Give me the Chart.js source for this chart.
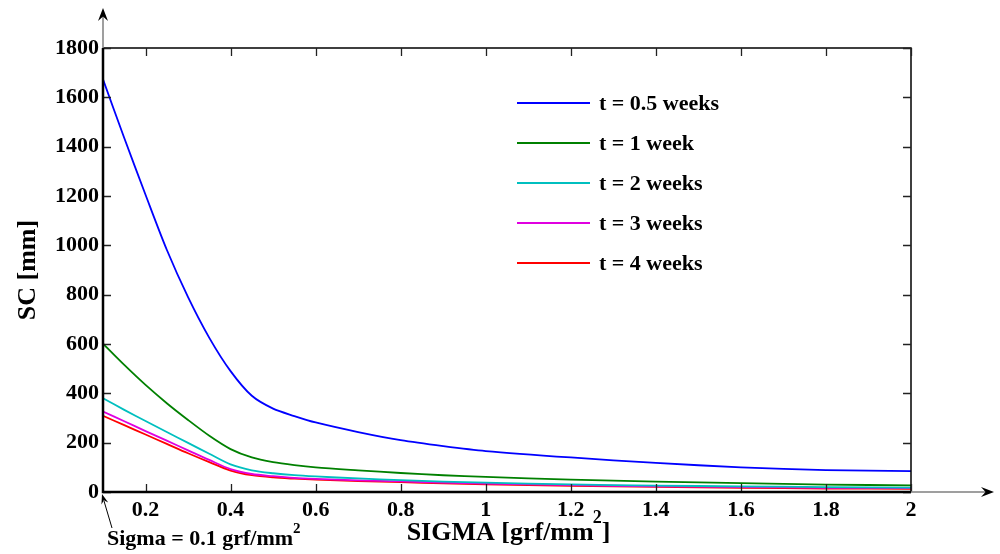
<!DOCTYPE html>
<html>
<head>
<meta charset="utf-8">
<title>SC vs SIGMA</title>
<script src="https://cdn.jsdelivr.net/npm/chart.js@4.4.1/dist/chart.umd.min.js"></script>
<style>
  html, body { margin: 0; padding: 0; background: #ffffff; }
  #wrap { width: 1000px; height: 554px; }
</style>
</head>
<body>
<div id="wrap"><canvas id="c" width="1000" height="554"></canvas></div>
<script>
// Applied stress values (grf/mm^2)
const sigma = [0.1, 0.15, 0.2, 0.25, 0.3, 0.35, 0.4, 0.45, 0.5, 0.55, 0.6, 0.7, 0.8, 0.9, 1.0, 1.2, 1.4, 1.6, 1.8, 2.0];

// SC (mm) for each loading duration
const scHalfWeek   = [1673, 1435, 1205, 982, 790, 625, 490, 390, 338, 308, 282, 243, 210, 186, 166, 140, 118, 100, 89, 85];
const scOneWeek    = [601, 515, 434, 360, 292, 228, 174, 140, 121, 109, 100, 88, 77, 68, 61, 50, 42, 36, 30, 27];
const scTwoWeeks   = [380, 333, 288, 243, 199, 155, 112, 88, 76, 68, 63, 55, 48, 42, 38, 31, 26, 23, 20, 18];
const scThreeWeeks = [326, 287, 247, 208, 169, 130, 93, 73, 64, 57, 53, 47, 43, 38, 34, 28, 23, 20, 17, 16];
const scFourWeeks  = [309, 271, 233, 195, 157, 121, 87, 68, 59, 54, 50, 44, 40, 35, 31, 25, 21, 17, 14, 13];

const seriesLabels = ['t = 0.5 weeks', 't = 1 week', 't = 2 weeks', 't = 3 weeks', 't = 4 weeks'];
const seriesColors = ['#0000ff', '#008000', '#00bfbf', '#e000e0', '#ff0000'];
const seriesValues = [scHalfWeek, scOneWeek, scTwoWeeks, scThreeWeeks, scFourWeeks];

// Tick values
const xTicks = [0.2, 0.4, 0.6, 0.8, 1, 1.2, 1.4, 1.6, 1.8, 2];
const yTicks = [0, 200, 400, 600, 800, 1000, 1200, 1400, 1600, 1800];

const FONT = "'Liberation Serif', 'Times New Roman', serif";

function arrowHead(ctx, tipX, tipY, dx, dy, len, half) {
  const n = Math.hypot(dx, dy); const ux = dx / n, uy = dy / n;
  const bx = tipX - ux * len, by = tipY - uy * len;
  const nx = tipX - ux * len * 0.65, ny = tipY - uy * len * 0.65;
  ctx.beginPath();
  ctx.moveTo(tipX, tipY);
  ctx.lineTo(bx - uy * half, by + ux * half);
  ctx.lineTo(nx, ny);
  ctx.lineTo(bx + uy * half, by - ux * half);
  ctx.closePath();
  ctx.fill();
}

// Draws the axes box with inner ticks, arrows, titles, legend and the note
const frame = {
  id: 'frame',
  afterDraw(chart) {
    const ctx = chart.ctx;
    const a = chart.chartArea;
    const xs = chart.scales.x, ys = chart.scales.y;
    ctx.save();

    // Top and right borders
    ctx.strokeStyle = '#000'; ctx.lineWidth = 1.5;
    ctx.beginPath();
    ctx.moveTo(a.left, a.top); ctx.lineTo(a.right, a.top); ctx.lineTo(a.right, a.bottom);
    ctx.stroke();

    // Inner tick marks
    ctx.strokeStyle = '#222'; ctx.lineWidth = 1.3;
    ctx.beginPath();
    xTicks.forEach(v => {
      const px = Math.round(xs.getPixelForValue(v)) + 0.5;
      ctx.moveTo(px, a.bottom); ctx.lineTo(px, a.bottom - 8);
      ctx.moveTo(px, a.top); ctx.lineTo(px, a.top + 8);
    });
    yTicks.forEach(v => {
      const py = Math.round(ys.getPixelForValue(v)) + 0.5;
      ctx.moveTo(a.left, py); ctx.lineTo(a.left + 8, py);
      ctx.moveTo(a.right, py); ctx.lineTo(a.right - 8, py);
    });
    ctx.stroke();

    // Gray axis extensions
    ctx.strokeStyle = '#808080'; ctx.lineWidth = 1.5;
    ctx.beginPath();
    ctx.moveTo(a.left, a.top); ctx.lineTo(a.left, 16);
    ctx.moveTo(a.right, a.bottom); ctx.lineTo(986, a.bottom);
    ctx.stroke();

    // Main axes
    ctx.strokeStyle = '#000'; ctx.lineWidth = 2.5;
    ctx.beginPath();
    ctx.moveTo(a.left, a.top); ctx.lineTo(a.left, a.bottom); ctx.lineTo(a.right, a.bottom);
    ctx.stroke();

    ctx.fillStyle = '#000';
    arrowHead(ctx, a.left, 8, 0, -1, 13, 5);
    arrowHead(ctx, 994, a.bottom, 1, 0, 13, 5);

    // Legend
    ctx.font = 'bold 22px ' + FONT;
    ctx.textBaseline = 'middle';
    ctx.textAlign = 'left';
    chart.data.datasets.forEach((ds, i) => {
      const y = 103 + i * 40;
      ctx.strokeStyle = ds.borderColor; ctx.lineWidth = 1.8;
      ctx.beginPath(); ctx.moveTo(517, y); ctx.lineTo(590, y); ctx.stroke();
      ctx.fillStyle = '#000';
      ctx.fillText(ds.label, 599, y + 1);
    });

    // Y title
    ctx.save();
    ctx.translate(28, (a.top + a.bottom) / 2);
    ctx.rotate(-Math.PI / 2);
    ctx.textAlign = 'center';
    ctx.textBaseline = 'middle';
    ctx.font = 'bold 26px ' + FONT;
    ctx.fillText('SC [mm]', 0, 0);
    ctx.restore();

    // X title with superscript
    ctx.textBaseline = 'alphabetic';
    ctx.textAlign = 'left';
    const main = 'SIGMA [grf/mm';
    ctx.font = 'bold 26px ' + FONT;
    const w1 = ctx.measureText(main).width;
    const w3 = ctx.measureText(']').width;
    ctx.font = 'bold 18px ' + FONT;
    const w2 = ctx.measureText('2').width;
    let x0 = (a.left + a.right) / 2 - (w1 + w2 + w3) / 2 + 2;
    ctx.font = 'bold 26px ' + FONT;
    ctx.fillText(main, x0, 540);
    ctx.font = 'bold 18px ' + FONT;
    ctx.fillText('2', x0 + w1 - 1, 523);
    ctx.font = 'bold 26px ' + FONT;
    ctx.fillText(']', x0 + w1 + w2 - 1, 540);

    // Note pointing at the first point of the range
    const tipX = xs.getPixelForValue(sigma[0]) - 1;
    const tipY = ys.getPixelForValue(0) + 2;
    ctx.strokeStyle = '#000'; ctx.lineWidth = 1;
    ctx.beginPath(); ctx.moveTo(112, 528); ctx.lineTo(tipX + 2, tipY + 7); ctx.stroke();
    arrowHead(ctx, tipX, tipY, tipX - 112, tipY - 528, 10, 3.5);
    ctx.font = 'bold 22px ' + FONT;
    const note = 'Sigma = 0.1 grf/mm';
    ctx.fillText(note, 107, 545);
    const wn = ctx.measureText(note).width;
    ctx.font = 'bold 15px ' + FONT;
    ctx.fillText('2', 107 + wn, 533);

    ctx.restore();
  }
};

const datasets = seriesValues.map((vals, i) => ({
  label: seriesLabels[i],
  data: sigma.map((s, j) => ({ x: s, y: vals[j] })),
  borderColor: seriesColors[i],
  backgroundColor: seriesColors[i],
  borderWidth: 1.8,
  pointRadius: 0,
  tension: 0.3,
  fill: false
}));

Chart.defaults.font.family = FONT;
Chart.defaults.font.weight = 'bold';
Chart.defaults.font.size = 22;
Chart.defaults.color = '#000';

new Chart(document.getElementById('c'), {
  type: 'line',
  data: { datasets },
  options: {
    responsive: false,
    animation: false,
    devicePixelRatio: 1,
    layout: { padding: { left: 0, top: 48, right: 89, bottom: 0 } },
    plugins: { legend: { display: false }, tooltip: { enabled: false } },
    scales: {
      x: {
        type: 'linear',
        min: 0.1, max: 2,
        grid: { display: false, drawTicks: false },
        border: { display: false },
        afterBuildTicks: s => { s.ticks = xTicks.map(v => ({ value: v })); },
        afterFit: s => { s.height = 62; },
        ticks: { padding: 5, maxRotation: 0, autoSkip: false, callback: v => String(v) }
      },
      y: {
        type: 'linear',
        min: 0, max: 1800,
        grid: { display: false, drawTicks: false },
        border: { display: false },
        afterBuildTicks: s => { s.ticks = yTicks.map(v => ({ value: v })); },
        afterFit: s => { s.width = 103; },
        ticks: { padding: 4, autoSkip: false, callback: v => String(v) }
      }
    }
  },
  plugins: [frame]
});
</script>
</body>
</html>
